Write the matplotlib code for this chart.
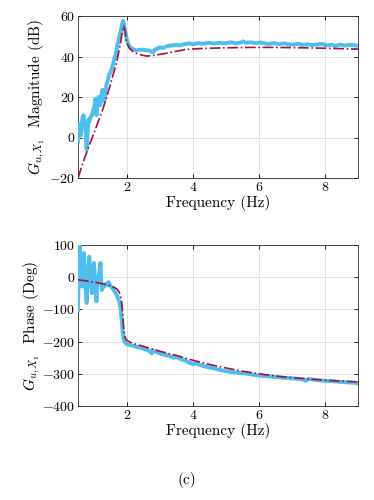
import numpy as np
import matplotlib
matplotlib.use("Agg")
import matplotlib.pyplot as plt

# frequenze (Hz) e modulo misurato (dB)
f_mag_meas = [0.52, 0.54, 0.56, 0.58, 0.6, 0.63, 0.66, 0.69, 0.72, 0.75, 0.78, 0.81, 0.84, 0.87,
              0.9, 0.94, 0.98, 1.01, 1.04, 1.08, 1.11, 1.14, 1.17, 1.2, 1.23, 1.26, 1.29, 1.32,
              1.35, 1.38, 1.42, 1.46, 1.5, 1.54, 1.58, 1.62, 1.66, 1.7, 1.74, 1.78, 1.82, 1.86,
              1.88, 1.9, 1.93, 1.96, 2.0, 2.03, 2.08, 2.13, 2.2, 2.28, 2.35, 2.45, 2.55, 2.65,
              2.72, 2.79, 2.85, 2.92, 2.99, 3.1, 3.2, 3.29, 3.4, 3.5, 3.6, 3.7, 3.79, 3.9, 4.0,
              4.15, 4.3, 4.39, 4.5, 4.65, 4.8, 5.0, 5.15, 5.3, 5.45, 5.52, 5.6, 5.75, 5.9, 6.05,
              6.2, 6.3, 6.45, 6.6, 6.75, 6.9, 7.05, 7.2, 7.3, 7.45, 7.6, 7.75, 7.9, 8.05, 8.2,
              8.3, 8.45, 8.6, 8.75, 8.9, 9.0]
mag_meas = [-2, 4, 7, 3, 1, 6, 10, 11, 6, 3, -6, 2, 9, 8,
            10, 11, 13.6, 15, 19, 11, 16, 20, 17, 16, 21, 23.5, 20, 18,
            23, 26, 28, 31, 32, 34, 36, 39, 41, 45, 47.5, 50.6, 53, 56.4,
            57.5, 57, 54, 51.5, 48.5, 46.5, 45, 44, 43.5, 43, 43.2, 43.4, 43.2, 43,
            42.5, 42, 43.5, 43.8, 44.5, 44.2, 45, 45.3, 45.5, 45.8, 45.4, 46, 46.2, 46.5, 46,
            46.6, 46.3, 46.5, 46.8, 46.4, 46.7, 46.6, 47, 46.5, 46.9, 47.5, 46.8, 47, 46.6, 46.9,
            46.4, 46.2, 46.6, 46.1, 46.5, 46.0, 45.9, 46.3, 45.7, 46.0, 45.6, 45.9, 46.2, 45.5, 45.8,
            45.2, 45.9, 45.4, 45.8, 45.5, 45.3]

# modello (dB)
f_mag_mod = [0.52, 0.7, 0.88, 1.08, 1.28, 1.48, 1.68, 1.8, 1.88, 1.91, 1.95, 1.98, 2.03, 2.08,
             2.18, 2.28, 2.45, 2.59, 2.8, 3.1, 3.4, 3.79, 4.3, 5.0, 5.8, 6.5, 7.3, 8.0, 8.8, 9.0]
mag_mod = [-20, -11, -3, 5.5, 14.4, 25, 36.6, 46, 54, 55, 52, 48, 45.5, 44,
           42.5, 41.6, 40.7, 40.2, 40.5, 41.3, 42.3, 43.5, 44.0, 44.3, 44.5, 44.5, 44.3, 44.1, 43.7, 43.7]

# fase misurata (gradi)
f_ph_meas = [0.52, 0.55, 0.58, 0.61, 0.64, 0.67, 0.7, 0.74, 0.78, 0.82, 0.86, 0.9, 0.94, 0.97,
             1.0, 1.04, 1.08, 1.11, 1.14, 1.17, 1.2, 1.22, 1.24, 1.27, 1.3, 1.34, 1.38, 1.41,
             1.44, 1.48, 1.52, 1.58, 1.63, 1.68, 1.73, 1.77, 1.8, 1.82, 1.84, 1.86, 1.88, 1.9,
             1.93, 1.96, 2.0, 2.1, 2.2, 2.35, 2.5, 2.6, 2.7, 2.75, 2.8, 2.9, 3.0, 3.15, 3.3, 3.4,
             3.45, 3.5, 3.65, 3.8, 3.9, 4.0, 4.1, 4.2, 4.35, 4.5, 4.7, 4.9, 5.0, 5.2, 5.4, 5.5,
             5.7, 5.9, 6.0, 6.2, 6.4, 6.5, 6.7, 6.9, 7.0, 7.2, 7.35, 7.4, 7.5, 7.7, 7.9, 8.0,
             8.2, 8.4, 8.5, 8.7, 8.9, 9.0]
ph_meas = [-102, 40, 100, -10, -29, 30, 75, -20, -80, 10, 64, 0, -50, 10,
           44, -10, -75, 0, -12, 20, 44, -10, -40, -25, -30, -22, -20, -25,
           -15, -22, -29, -36, -45, -53, -65, -75, -92, -110, -130, -155, -175, -190,
           -200, -205, -208, -211, -213, -218, -222, -226, -230, -237, -228, -233, -237, -241, -245, -250,
           -246, -248, -255, -260, -266, -270, -268, -272, -277, -280, -285, -290, -292, -295, -297, -298,
           -301, -304, -305, -307, -309, -310, -312, -313, -314, -316, -318, -322, -316, -319, -321, -322,
           -323, -325, -325, -327, -328, -330]

# fase modello (gradi)
f_ph_mod = [0.52, 0.8, 1.0, 1.25, 1.5, 1.62, 1.7, 1.76, 1.8, 1.83, 1.86, 1.88, 1.9, 1.93, 1.96,
            2.0, 2.1, 2.2, 2.5, 3.0, 3.5, 4.0, 4.5, 5.0, 5.5, 6.0, 6.5, 7.0, 7.5, 8.0, 8.5, 9.0]
ph_mod = [-8, -12, -15, -20, -27, -32, -37, -45, -55, -70, -95, -125, -155, -180, -190,
          -196, -202, -206, -215, -230, -243, -258, -271, -282, -292, -300, -307, -312, -316, -320, -323, -325]

plt.rcParams["font.family"] = "serif"
plt.rcParams["font.serif"] = ["cmr10"]
plt.rcParams["mathtext.fontset"] = "cm"
plt.rcParams["axes.unicode_minus"] = False
plt.rcParams["axes.formatter.use_mathtext"] = True

blu = "#4DBEEE"
rosso = "#A2142F"

fig = plt.figure(figsize=(3.74, 5.0), dpi=100)
ax1 = fig.add_axes([0.2086, 0.644, 0.749, 0.324])
ax2 = fig.add_axes([0.2086, 0.188, 0.749, 0.322])

ax1.plot(f_mag_meas, mag_meas, color=blu, lw=2.8, zorder=3)
ax1.plot(f_mag_mod, mag_mod, color=rosso, lw=1.2, ls="-.", zorder=4)
ax1.set_xlim(0.52, 9)
ax1.set_ylim(-20, 60)
ax1.set_yticks([-20, 0, 20, 40, 60])
ax1.set_xticks([2, 4, 6, 8])
ax1.set_xlabel("Frequency (Hz)", fontsize=11, labelpad=1)
ax1.set_ylabel(r"$G_{u,X_1}$  Magnitude (dB)", fontsize=11)
ax1.yaxis.set_label_coords(-0.112, 0.5)

ax2.plot(f_ph_meas, ph_meas, color=blu, lw=2.8, zorder=3)
ax2.plot(f_ph_mod, ph_mod, color=rosso, lw=1.2, ls="-.", zorder=4)
ax2.set_xlim(0.52, 9)
ax2.set_ylim(-400, 100)
ax2.set_yticks([-400, -300, -200, -100, 0, 100])
ax2.set_xticks([2, 4, 6, 8])
ax2.set_xlabel("Frequency (Hz)", fontsize=11, labelpad=1)
ax2.set_ylabel(r"$G_{u,X_1}$  Phase (Deg)", fontsize=11)
ax2.yaxis.set_label_coords(-0.13, 0.5)

for ax in (ax1, ax2):
    ax.grid(True, color="#dcdcdc", lw=0.6)
    ax.set_axisbelow(True)
    ax.tick_params(direction="in", top=True, right=True, labelsize=10, length=3, width=0.6, pad=2)
    for s in ax.spines.values():
        s.set_linewidth(0.6)
        s.set_color("#262626")

fig.text(0.5, 0.04, "(c)", ha="center", va="center", fontsize=11)

fig.savefig("out.png", dpi=100)
